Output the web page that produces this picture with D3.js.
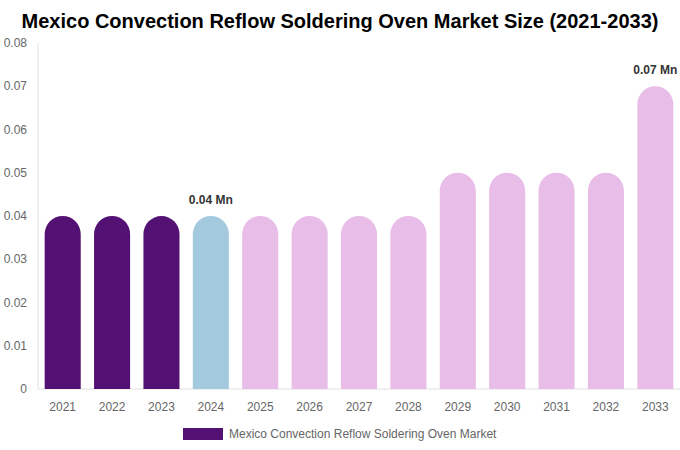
<!DOCTYPE html>
<html>
<head>
<meta charset="utf-8">
<script src="https://cdn.jsdelivr.net/npm/d3@7"></script>
<style>
  body { margin: 0; background: #fff; font-family: "Liberation Sans", Arial, sans-serif; }
</style>
</head>
<body>
<div id="chart"></div>
<script>
var years = ["2021", "2022", "2023", "2024", "2025", "2026", "2027", "2028", "2029", "2030", "2031", "2032", "2033"];
var values = [0.04, 0.04, 0.04, 0.04, 0.04, 0.04, 0.04, 0.04, 0.05, 0.05, 0.05, 0.05, 0.07];
var barColors = ["#541174", "#541174", "#541174", "#a3c9de", "#e8bde8", "#e8bde8", "#e8bde8", "#e8bde8", "#e8bde8", "#e8bde8", "#e8bde8", "#e8bde8", "#e8bde8"];
var yTicks = [0, 0.01, 0.02, 0.03, 0.04, 0.05, 0.06, 0.07, 0.08];
var labelled = {"2024": "0.04 Mn", "2033": "0.07 Mn"};

var W = 680, H = 450;
var margin = {top: 43, right: 0, bottom: 61, left: 38};

var svg = d3.select('#chart').append('svg')
    .attr('width', W)
    .attr('height', H);

svg.append('text')
    .attr('x', W / 2)
    .attr('y', 28)
    .attr('text-anchor', 'middle')
    .style('font-size', '20px')
    .style('font-weight', 'bold')
    .style('fill', '#000')
    .text('Mexico Convection Reflow Soldering Oven Market Size (2021-2033)');

var x = d3.scaleBand()
    .domain(years)
    .range([margin.left, W - margin.right])
    .paddingInner(0.27)
    .paddingOuter(0.135);

var y = d3.scaleLinear()
    .domain([0, 0.08])
    .range([H - margin.bottom, margin.top]);

// axes lines
svg.append('line')
    .attr('x1', margin.left).attr('x2', margin.left)
    .attr('y1', y(0.08)).attr('y2', y(0))
    .attr('stroke', '#e0e0e0');
svg.append('line')
    .attr('x1', margin.left).attr('x2', W - margin.right)
    .attr('y1', y(0)).attr('y2', y(0))
    .attr('stroke', '#e0e0e0');

svg.append('g')
    .selectAll('text')
    .data(yTicks)
    .enter()
    .append('text')
    .attr('x', 27)
    .attr('y', function (d) { return y(d); })
    .attr('dy', '0.35em')
    .attr('text-anchor', 'end')
    .style('font-size', '12px')
    .style('fill', '#666')
    .text(function (d) { return d; });

svg.append('g')
    .selectAll('text')
    .data(years)
    .enter()
    .append('text')
    .attr('x', function (d) { return x(d) + x.bandwidth() / 2; })
    .attr('y', y(0) + 22)
    .attr('text-anchor', 'middle')
    .style('font-size', '12px')
    .style('fill', '#666')
    .text(function (d) { return d; });

function barPath(x0, w, top, bottom) {
    var r = w / 2;
    return 'M' + x0 + ',' + bottom +
        'V' + (top + r) +
        'A' + r + ',' + r + ' 0 0 1 ' + (x0 + w) + ',' + (top + r) +
        'V' + bottom + 'Z';
}

svg.append('g')
    .selectAll('path')
    .data(years)
    .enter()
    .append('path')
    .attr('d', function (d, i) {
        return barPath(x(d), x.bandwidth(), y(values[i]), y(0));
    })
    .attr('fill', function (d, i) { return barColors[i]; });

svg.append('g')
    .selectAll('text')
    .data(years.filter(function (d) { return labelled[d]; }))
    .enter()
    .append('text')
    .attr('x', function (d) { return x(d) + x.bandwidth() / 2; })
    .attr('y', function (d) { return y(values[years.indexOf(d)]) - 12; })
    .attr('text-anchor', 'middle')
    .style('font-size', '12px')
    .style('font-weight', 'bold')
    .style('fill', '#333')
    .text(function (d) { return labelled[d]; });

// legend
var legend = svg.append('g');
legend.append('rect')
    .attr('x', 183).attr('y', 428)
    .attr('width', 40).attr('height', 12)
    .attr('fill', '#541174');
legend.append('text')
    .attr('x', 229).attr('y', 434)
    .attr('dy', '0.35em')
    .style('font-size', '12px')
    .style('fill', '#666')
    .text('Mexico Convection Reflow Soldering Oven Market');
</script>
</body>
</html>
